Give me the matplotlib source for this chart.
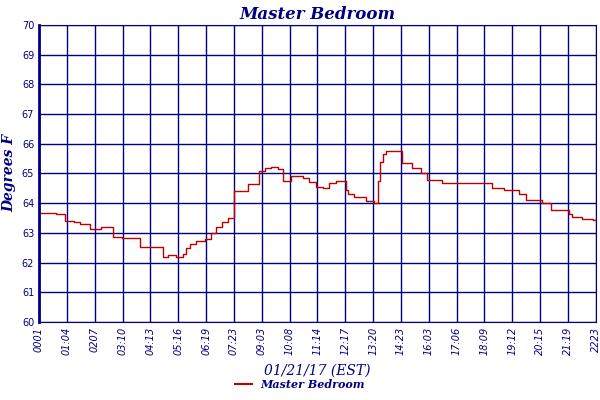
import numpy as np
import matplotlib.pyplot as plt
from matplotlib.lines import Line2D

# minutes since 00:01 and temperature (deg F), step series
minutes = [0, 40, 62, 85, 100, 123, 150, 179, 200, 243, 265, 299, 310, 330, 347,
           355, 363, 379, 400, 415, 427, 440, 455, 470, 471, 503, 531, 544, 560,
           575, 588, 608, 636, 650, 668, 685, 700, 715, 740, 745, 760, 788,
           808, 816, 822, 830, 836, 876, 900, 920, 936, 972, 996, 1093, 1121,
           1157, 1173, 1213, 1233, 1277, 1285, 1309, 1335, 1342]
temps = [63.67, 63.62, 63.41, 63.36, 63.3, 63.13, 63.18, 62.86, 62.82, 62.52,
         62.52, 62.2, 62.25, 62.2, 62.3, 62.5, 62.63, 62.74, 62.8, 63.0, 63.2,
         63.35, 63.5, 63.65, 64.41, 64.63, 65.08, 65.19, 65.22, 65.15, 64.75,
         64.91, 64.85, 64.7, 64.55, 64.5, 64.69, 64.74, 64.43, 64.3, 64.19, 64.08,
         64.02, 64.74, 65.4, 65.65, 65.77, 65.36, 65.19, 65.0, 64.77, 64.69,
         64.67, 64.52, 64.43, 64.3, 64.1, 63.99, 63.77, 63.65, 63.52, 63.47,
         63.42, 63.42]

tick_labels = ['0001', '01:04', '0207', '03:10', '04:13', '05:16', '06:19',
               '07:23', '09:03', '10:08', '11:14', '12:17', '13:20', '14:23',
               '16:03', '17:06', '18:09', '19:12', '20:15', '21:19', '2223']

navy = '#000080'
red = '#c00000'

fig = plt.figure(figsize=(6, 4), dpi=100)
ax = fig.add_axes([0.065, 0.195, 0.928, 0.743])
ax.step(minutes, temps, where='post', color=red, lw=1)
ax.set_xlim(0, 1342)
ax.set_ylim(60, 70)
ax.set_xticks(np.linspace(0, 1342, len(tick_labels)))
ax.set_xticklabels(tick_labels, rotation=90, fontsize=7, color=navy, fontstyle='italic')
ax.set_yticks(range(60, 71))
ax.tick_params(axis='y', labelsize=7, colors=navy, length=0)
ax.tick_params(axis='x', length=0)
ax.grid(True, color=navy, lw=1)
for s in ax.spines.values():
    s.set_color(navy)
ax.spines['left'].set_linewidth(2)
ax.set_title('Master Bedroom', fontsize=12, color=navy, fontstyle='italic',
             fontweight='bold', family='DejaVu Serif', pad=4)
ax.set_ylabel('Degrees F', fontsize=10, color=navy, fontstyle='italic',
              fontweight='bold', family='DejaVu Serif', labelpad=4)
ax.set_xlabel('01/21/17 (EST)', fontsize=10, color=navy, fontstyle='italic',
              family='DejaVu Serif', labelpad=6)
fig.legend([Line2D([0], [0], color=red, lw=1.5)], ['Master Bedroom'],
           loc='lower center', bbox_to_anchor=(0.5, 0.0), frameon=False,
           prop={'family': 'DejaVu Serif', 'style': 'italic', 'weight': 'bold', 'size': 8},
           labelcolor=navy, handlelength=1.5)
fig.savefig('out.png')
